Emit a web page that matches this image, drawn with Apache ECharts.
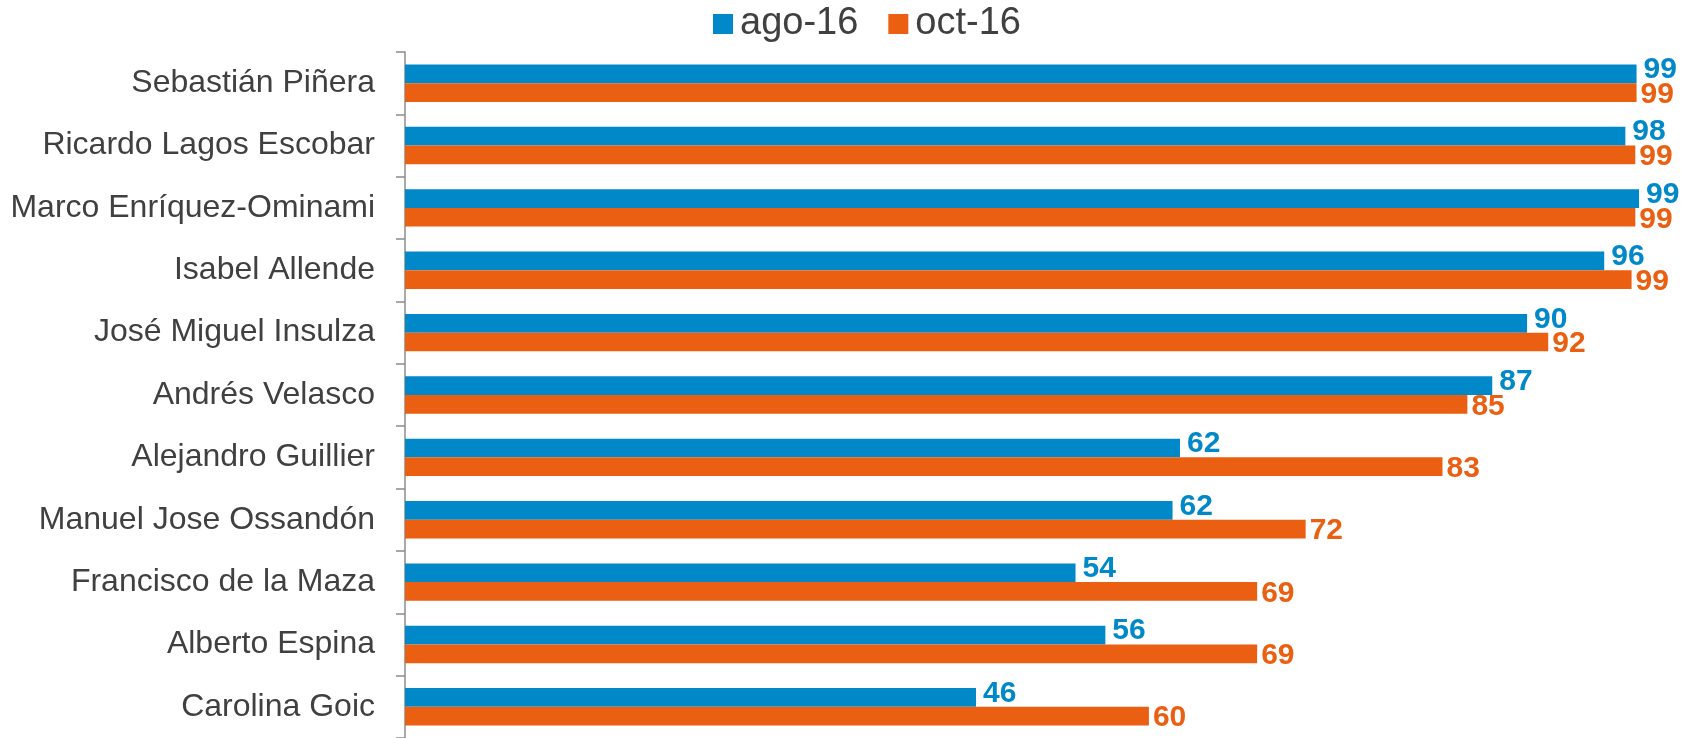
<!DOCTYPE html>
<html>
<head>
<meta charset="utf-8">
<script src="https://cdn.jsdelivr.net/npm/echarts@6/dist/echarts.min.js"></script>
<style>
html,body{margin:0;padding:0;background:#fff;}
#chart{width:1686px;height:738px;}
</style>
</head>
<body>
<div id="chart"></div>
<script>
const categories = [
  "Sebastián Piñera",
  "Ricardo Lagos Escobar",
  "Marco Enríquez-Ominami",
  "Isabel Allende",
  "José Miguel Insulza",
  "Andrés Velasco",
  "Alejandro Guillier",
  "Manuel Jose Ossandón",
  "Francisco de la Maza",
  "Alberto Espina",
  "Carolina Goic"
];
const seriesNames = ["ago-16", "oct-16"];
const agoValues = [99.0, 98.1, 99.2, 96.4, 90.2, 87.4, 62.3, 61.7, 53.9, 56.3, 45.9];
const octValues = [99.0, 98.9, 98.9, 98.6, 91.9, 85.4, 83.4, 72.4, 68.5, 68.5, 59.8];

const FONT = "'Liberation Sans', Arial, sans-serif";
const BLUE = "#0088C8";
const ORANGE = "#EA5F11";

const chart = echarts.init(document.getElementById('chart'), null, {renderer: 'canvas'});
chart.setOption({
  animation: false,
  backgroundColor: '#ffffff',
  legend: {
    data: seriesNames,
    left: 708,
    top: 0,
    itemWidth: 20,
    itemHeight: 20,
    itemGap: 30,
    icon: 'rect',
    textStyle: {fontFamily: FONT, fontSize: 38, color: '#404040', lineHeight: 20, padding: [0, 0, 0, 2]}
  },
  grid: {left: 405, right: 37, top: 52, bottom: -4},
  xAxis: {
    type: 'value',
    min: 0,
    max: 100,
    show: false
  },
  yAxis: {
    type: 'category',
    data: categories,
    inverse: true,
    axisLine: {show: true, lineStyle: {color: '#8c8c8c', width: 1.5}},
    axisTick: {show: true, length: 9, lineStyle: {color: '#8c8c8c', width: 1.5}},
    axisLabel: {fontFamily: FONT, fontSize: 32, color: '#404040', margin: 30}
  },
  series: [
    {
      name: seriesNames[0],
      type: 'bar',
      data: agoValues,
      barGap: '0%',
      barCategoryGap: '40%',
      itemStyle: {color: BLUE},
      label: {
        show: true, position: 'right', distance: 7, offset: [0, -4],
        fontFamily: FONT, fontSize: 30, fontWeight: 'bold', color: BLUE,
        formatter: p => Math.round(p.value)
      }
    },
    {
      name: seriesNames[1],
      type: 'bar',
      data: octValues,
      barGap: '0%',
      barCategoryGap: '40%',
      itemStyle: {color: ORANGE},
      label: {
        show: true, position: 'right', distance: 4, offset: [0, 2],
        fontFamily: FONT, fontSize: 30, fontWeight: 'bold', color: ORANGE,
        formatter: p => Math.round(p.value)
      }
    }
  ]
});
</script>
</body>
</html>
